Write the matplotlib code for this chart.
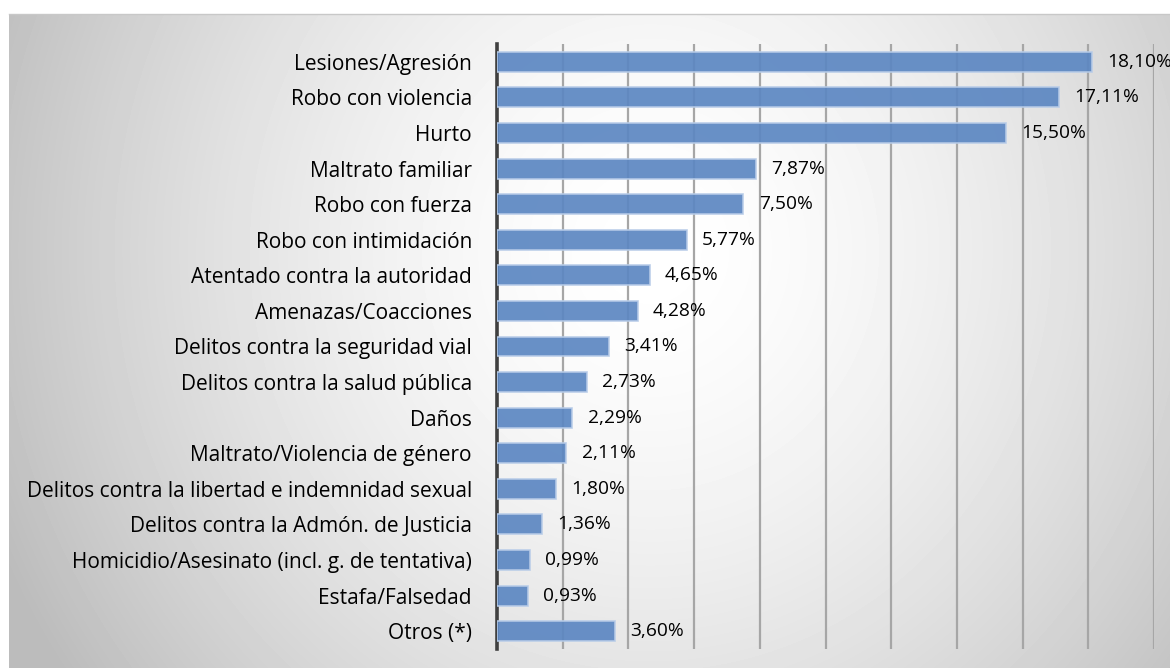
"""
    Delitos por tipo (porcentaje), barras horizontales con fondo degradado
"""

import numpy as np
import matplotlib.pyplot as plt

plt.rcParams['font.family'] = ['Open Sans', 'DejaVu Sans']

categorias = [
    "Lesiones/Agresión",
    "Robo con violencia",
    "Hurto",
    "Maltrato familiar",
    "Robo con fuerza",
    "Robo con intimidación",
    "Atentado contra la autoridad",
    "Amenazas/Coacciones",
    "Delitos contra la seguridad vial",
    "Delitos contra la salud pública",
    "Daños",
    "Maltrato/Violencia de género",
    "Delitos contra la libertad e indemnidad sexual",
    "Delitos contra la Admón. de Justicia",
    "Homicidio/Asesinato (incl. g. de tentativa)",
    "Estafa/Falsedad",
    "Otros (*)",
]
porcentajes = [18.10, 17.11, 15.50, 7.87, 7.50, 5.77, 4.65, 4.28, 3.41,
               2.73, 2.29, 2.11, 1.80, 1.36, 0.99, 0.93, 3.60]


def _fondo(fig):
    W, H = 1170, 668
    x0, y0 = 9, 14
    bg = fig.add_axes([x0 / W, 0, 1 - x0 / W, (H - y0) / H], zorder=-10)
    xx, yy = np.meshgrid(np.arange(x0, W), np.arange(y0, H))
    d = np.hypot((xx - 650) / 1.0, (yy - 250) / 1.05) / 682
    v = np.clip(255 - 63 * d ** 1.6, 188, 255) / 255
    bg.imshow(v, cmap='gray', vmin=0, vmax=1, aspect='auto', interpolation='bilinear')
    bg.axis('off')
    fig.add_artist(plt.Line2D([x0 / W, 1], [(H - y0) / H] * 2, color='#c8c8c8', lw=1.0,
                              transform=fig.transFigure))


def main():
    W, H = 1170, 668
    fig = plt.figure(figsize=(W / 100, H / 100), dpi=100)
    fig.patch.set_facecolor('white')
    _fondo(fig)

    ax = fig.add_axes([497 / W, 1 - 649 / H, (1154 - 497) / W, (649 - 44) / H])
    ax.patch.set_alpha(0)

    y = np.arange(len(categorias))
    ax.barh(y, porcentajes, height=0.56, color=(0.36, 0.53, 0.76), alpha=0.92,
            edgecolor=(0.72, 0.80, 0.91), linewidth=1.2, zorder=3)

    for yi, v in zip(y, porcentajes):
        ax.annotate(f"{v:.2f}%".replace('.', ','), (v, yi), xytext=(11, 0),
                    textcoords='offset points', va='center', ha='left',
                    fontsize=13.8, color='black', zorder=5, annotation_clip=False)

    ax.set_xlim(0, 20)
    ax.set_ylim(len(categorias) - 0.5, -0.5)
    ax.set_xticks(np.arange(2, 21, 2))
    ax.set_xticklabels([])
    ax.tick_params(axis='x', length=0)
    ax.xaxis.grid(True, color='#a6a6a6', lw=1.6, zorder=0)
    ax.set_axisbelow(True)

    ax.set_yticks(y)
    ax.set_yticklabels(categorias, fontsize=15)
    ax.tick_params(axis='y', length=0, pad=18)

    for s in ['top', 'right', 'bottom']:
        ax.spines[s].set_visible(False)
    ax.spines['left'].set_color('#404040')
    ax.spines['left'].set_linewidth(2.6)

    fig.savefig('out.png', dpi=100)


if __name__ == '__main__':
    main()
